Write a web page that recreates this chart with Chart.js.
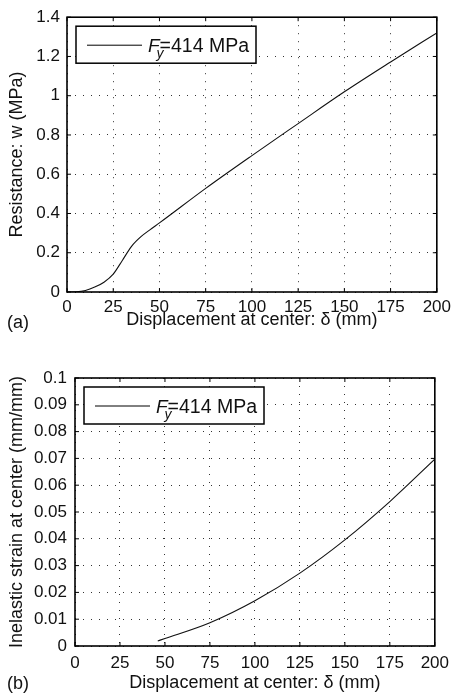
<!DOCTYPE html>
<html>
<head>
<meta charset="utf-8">
<script src="https://cdn.jsdelivr.net/npm/chart.js@4.4.1/dist/chart.umd.min.js"></script>
<style>
  body { margin: 0; background: #fff; }
  .panel { position: absolute; left: 0; width: 456px; }
</style>
</head>
<body>
<div class="panel" style="top:0;height:345px"><canvas id="chartA" width="456" height="345"></canvas></div>
<div class="panel" style="top:345px;height:349px"><canvas id="chartB" width="456" height="349"></canvas></div>
<script>
// panel (a): resistance vs displacement
var dispA = [0, 5, 10, 15, 20, 25, 30, 35, 40, 45, 50, 75, 100, 125, 150, 175, 200];
var resistA = [0, 0.001, 0.008, 0.025, 0.05, 0.091, 0.162, 0.234, 0.282, 0.318, 0.352, 0.528, 0.695, 0.858, 1.02, 1.172, 1.32];

// panel (b): inelastic strain vs displacement
var dispB = [46, 50, 75, 100, 125, 150, 175, 200];
var strainB = [0.0019, 0.0028, 0.0087, 0.0169, 0.0272, 0.0396, 0.0539, 0.0697];

var xTicks = [0, 25, 50, 75, 100, 125, 150, 175, 200];
var yTicksA = [0, 0.2, 0.4, 0.6, 0.8, 1, 1.2, 1.4];
var yTicksB = [0, 0.01, 0.02, 0.03, 0.04, 0.05, 0.06, 0.07, 0.08, 0.09, 0.1];

var FONT = "'Liberation Sans', Arial, Helvetica, sans-serif";

function toPoints(xs, ys) {
  return xs.map(function (x, i) { return { x: x, y: ys[i] }; });
}

function fmt(v) { return String(Number(v.toFixed(3))); }

// box round the plot, small inward ticks, legend in the corner, panel letter
var framePlugin = {
  id: 'frame',
  afterDraw: function (chart, args, opts) {
    var ctx = chart.ctx, a = chart.chartArea;
    var xs = chart.scales.x, ys = chart.scales.y;
    ctx.save();
    ctx.strokeStyle = '#000';
    ctx.lineWidth = 1;
    ctx.beginPath();
    xs.ticks.forEach(function (t) {
      var px = xs.getPixelForValue(t.value);
      ctx.moveTo(px, a.bottom); ctx.lineTo(px, a.bottom - 4);
      ctx.moveTo(px, a.top); ctx.lineTo(px, a.top + 4);
    });
    ys.ticks.forEach(function (t) {
      var py = ys.getPixelForValue(t.value);
      ctx.moveTo(a.left, py); ctx.lineTo(a.left + 4, py);
      ctx.moveTo(a.right, py); ctx.lineTo(a.right - 4, py);
    });
    ctx.stroke();
    ctx.lineWidth = 1.6;
    ctx.strokeRect(a.left, a.top, a.right - a.left, a.bottom - a.top);

    // legend
    var bx = a.left + 9, by = a.top + 9, bw = 180, bh = 37;
    ctx.fillStyle = '#fff';
    ctx.fillRect(bx, by, bw, bh);
    ctx.lineWidth = 1.5;
    ctx.strokeRect(bx, by, bw, bh);
    ctx.lineWidth = 1;
    ctx.beginPath();
    ctx.moveTo(bx + 11, by + 19);
    ctx.lineTo(bx + 66, by + 19);
    ctx.stroke();
    ctx.fillStyle = '#111';
    ctx.textBaseline = 'alphabetic';
    ctx.textAlign = 'left';
    var tx = bx + 72, ty = by + 26;
    ctx.font = 'italic 19px ' + FONT;
    ctx.fillText('F', tx, ty);
    var fw = ctx.measureText('F').width;
    ctx.font = 'italic 14px ' + FONT;
    ctx.fillText('y', tx + fw - 3, ty + 6);
    ctx.font = '19.5px ' + FONT;
    ctx.fillText('=414 MPa', tx + fw, ty);

    // panel letter
    ctx.font = '18px ' + FONT;
    ctx.textBaseline = 'middle';
    ctx.fillText(opts.letter, 7, opts.letterY);
    ctx.restore();
  }
};

function makeChart(id, xs, ys, yTicks, yMax, yTitle, sizes) {
  var ctx = document.getElementById(id).getContext('2d');
  return new Chart(ctx, {
    type: 'line',
    data: {
      datasets: [{
        label: 'Fy=414 MPa',
        data: toPoints(xs, ys),
        borderColor: '#111',
        borderWidth: 1.1,
        pointRadius: 0,
        fill: false,
        cubicInterpolationMode: 'monotone'
      }]
    },
    options: {
      responsive: false,
      animation: false,
      layout: { padding: { top: sizes.top, right: 16, left: 0, bottom: 0 } },
      plugins: {
        legend: { display: false },
        tooltip: { enabled: false },
        frame: { letter: sizes.letter, letterY: sizes.letterY }
      },
      scales: {
        x: {
          type: 'linear',
          min: 0, max: 200,
          afterBuildTicks: function (s) { s.ticks = xTicks.map(function (v) { return { value: v }; }); },
          afterFit: function (s) { s.height = sizes.xh; },
          grid: { color: '#333', lineWidth: 1, drawTicks: false },
          border: { display: false, dash: [1, 7] },
          ticks: { color: '#111', font: { family: FONT, size: 17 }, padding: sizes.xpad, maxRotation: 0, callback: fmt },
          title: { display: true, text: 'Displacement at center: \u03b4 (mm)', color: '#111',
                   font: { family: FONT, size: 18 }, padding: { top: 0, bottom: sizes.tpad } }
        },
        y: {
          type: 'linear',
          min: 0, max: yMax,
          afterBuildTicks: function (s) { s.ticks = yTicks.map(function (v) { return { value: v }; }); },
          afterFit: function (s) { s.width = sizes.yw; },
          grid: { color: '#333', lineWidth: 1, drawTicks: false },
          border: { display: false, dash: [1, 7] },
          ticks: { color: '#111', font: { family: FONT, size: 17 }, padding: sizes.ypad, callback: fmt },
          title: { display: true, text: yTitle, color: '#111',
                   font: { family: FONT, size: 18 }, padding: { top: 6, bottom: 0 } }
        }
      }
    },
    plugins: [framePlugin]
  });
}

makeChart('chartA', dispA, resistA, yTicksA, 1.4, 'Resistance: w (MPa)',
  { top: 16, xh: 53, yw: 67, xpad: 5, ypad: 7, tpad: 14, letter: '(a)', letterY: 323 });
makeChart('chartB', dispB, strainB, yTicksB, 0.1, 'Inelastic strain at center (mm/mm)',
  { top: 33, xh: 48, yw: 75, xpad: 7, ypad: 8, tpad: 0, letter: '(b)', letterY: 339 });
</script>
</body>
</html>
